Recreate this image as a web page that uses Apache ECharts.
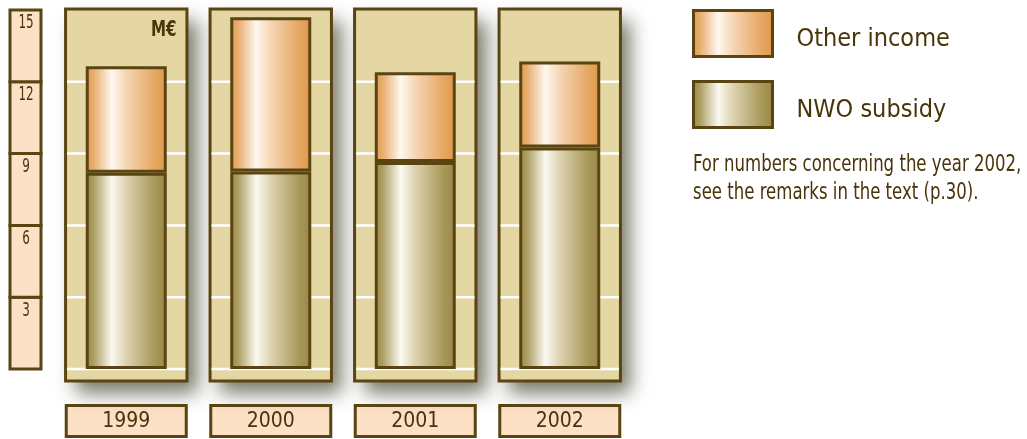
<!DOCTYPE html>
<html>
<head>
<meta charset="utf-8">
<script src="https://cdn.jsdelivr.net/npm/echarts@6/dist/echarts.min.js"></script>
<style>
    html, body { margin: 0; padding: 0; background: #ffffff; }
    #chart { width: 1027px; height: 439px; }
</style>
</head>
<body>
<div id="chart"></div>
<script>
// data (M€)
const years = ['1999', '2000', '2001', '2002'];
const nwoSubsidy = [8.2, 8.25, 8.65, 9.25];
const otherIncome = [4.45, 6.45, 3.75, 3.6];
const scaleTicks = [3, 6, 9, 12, 15];
const gridValues = [0, 3, 6, 9, 12];

const FONT = '"DejaVu Sans Condensed", "DejaVu Sans", sans-serif';
const BROWN = '#5a4412';
const TEXT = '#4a3409';
const PANEL = '#e4d7a4';
const PEACH = '#fde1c6';

const nwoGradient = {
    type: 'linear', x: 0, y: 0, x2: 1, y2: 0,
    colorStops: [
        { offset: 0, color: '#998847' },
        { offset: 0.1, color: '#ada064' },
        { offset: 0.32, color: '#fbf9f1' },
        { offset: 0.5, color: '#ddd3b2' },
        { offset: 0.85, color: '#a89858' },
        { offset: 1, color: '#998746' }
    ]
};
const otherGradient = {
    type: 'linear', x: 0, y: 0, x2: 1, y2: 0,
    colorStops: [
        { offset: 0, color: '#df984b' },
        { offset: 0.1, color: '#e8ae70' },
        { offset: 0.32, color: '#fef8f0' },
        { offset: 0.5, color: '#f5d6b4' },
        { offset: 0.85, color: '#e6a763' },
        { offset: 1, color: '#df974a' }
    ]
};

window.onload = () => {
    let chart = echarts.init(document.getElementById('chart'));

    let panelSeries = {
        type: 'custom',
        name: 'panels',
        z: 1,
        silent: true,
        encode: { x: 0, y: 1 },
        data: years.map((y, i) => [i, 15]),
        renderItem: (params, api) => {
            let idx = api.value(0);
            let cx = api.coord([idx, 0])[0];
            let yBottom = api.coord([idx, 0])[1];
            let yTop = api.coord([idx, 15])[1];
            let w = api.size([1, 0])[0] * 0.84;
            let box = { x: cx - w / 2, y: yTop - 1, width: w, height: yBottom - yTop + 13 };
            let children = [{
                type: 'rect',
                shape: box,
                style: {
                    fill: '#8a8a78',
                    shadowBlur: 18, shadowOffsetX: 10, shadowOffsetY: 12,
                    shadowColor: 'rgba(85,85,65,0.8)'
                }
            }, {
                type: 'rect',
                shape: box,
                style: { fill: PANEL, stroke: BROWN, lineWidth: 3 }
            }];
            gridValues.forEach(v => {
                let gy = api.coord([idx, v])[1];
                children.push({
                    type: 'line',
                    shape: { x1: cx - w / 2 + 1.5, y1: gy, x2: cx + w / 2 - 1.5, y2: gy },
                    style: { stroke: '#ffffff', lineWidth: 2.5 }
                });
            });
            return { type: 'group', children: children };
        }
    };

    let scaleSeries = {
        type: 'custom',
        name: 'scale',
        z: 1,
        silent: true,
        encode: { x: 0, y: 1 },
        data: scaleTicks.map(v => [0, v]),
        renderItem: (params, api) => {
            let v = api.value(1);
            let yTop = api.coord([0, v])[1];
            let yBot = api.coord([0, v - 3])[1];
            let left = params.coordSys.x - 44;
            return {
                type: 'group',
                children: [{
                    type: 'rect',
                    shape: { x: left, y: yTop, width: 31, height: yBot - yTop },
                    style: { fill: PEACH, stroke: BROWN, lineWidth: 3 }
                }, {
                    type: 'text',
                    x: left + 16,
                    y: yTop + 4,
                    scaleX: 0.7,
                    style: {
                        text: String(v), fill: TEXT, font: '19px ' + FONT,
                        align: 'center', verticalAlign: 'top'
                    }
                }]
            };
        }
    };

    let option = {
        animation: false,
        backgroundColor: '#ffffff',
        grid: { left: 54, top: 10, width: 578, height: 359 },
        xAxis: {
            type: 'category',
            data: years,
            axisLine: { show: false },
            axisTick: { show: false },
            axisLabel: {
                margin: 38,
                fontFamily: FONT,
                fontSize: 21,
                color: TEXT,
                backgroundColor: PEACH,
                borderColor: BROWN,
                borderWidth: 3,
                width: 117,
                height: 28,
                lineHeight: 30,
                align: 'center',
                verticalAlign: 'top'
            }
        },
        yAxis: {
            type: 'value',
            min: 0,
            max: 15,
            interval: 3,
            axisLine: { show: false },
            axisTick: { show: false },
            axisLabel: { show: false },
            splitLine: { show: false }
        },
        legend: {
            data: ['Other income', 'NWO subsidy'],
            orient: 'vertical',
            left: 692,
            top: 9,
            padding: 0,
            icon: 'rect',
            itemWidth: 79,
            itemHeight: 46,
            itemGap: 22,
            itemStyle: { borderColor: BROWN, borderWidth: 3 },
            formatter: '{t|{name}}',
            textStyle: {
                fontFamily: FONT, fontSize: 25, color: TEXT,
                rich: {
                    t: {
                        fontFamily: FONT, fontSize: 25, color: TEXT,
                        padding: [12, 0, 0, 19]
                    }
                }
            }
        },
        graphic: [{
            type: 'text',
            z: 10,
            left: 151,
            top: 20,
            scaleX: 0.8,
            style: { text: 'M€', font: 'bold 21px ' + FONT, fill: TEXT }
        }, {
            type: 'text',
            z: 10,
            left: 693,
            top: 151,
            scaleX: 0.8,
            style: {
                text: 'For numbers concerning the year 2002,\nsee the remarks in the text (p.30).',
                font: '23px ' + FONT, fill: TEXT, lineHeight: 28
            }
        }],
        series: [
            panelSeries,
            scaleSeries,
            {
                name: 'NWO subsidy',
                type: 'bar',
                stack: 'total',
                z: 3,
                barWidth: 81,
                data: nwoSubsidy,
                itemStyle: { color: nwoGradient, borderColor: BROWN, borderWidth: 3 }
            },
            {
                name: 'Other income',
                type: 'bar',
                stack: 'total',
                z: 3,
                barWidth: 81,
                data: otherIncome,
                itemStyle: { color: otherGradient, borderColor: BROWN, borderWidth: 3 }
            }
        ]
    };

    chart.setOption(option);
};
</script>
</body>
</html>
